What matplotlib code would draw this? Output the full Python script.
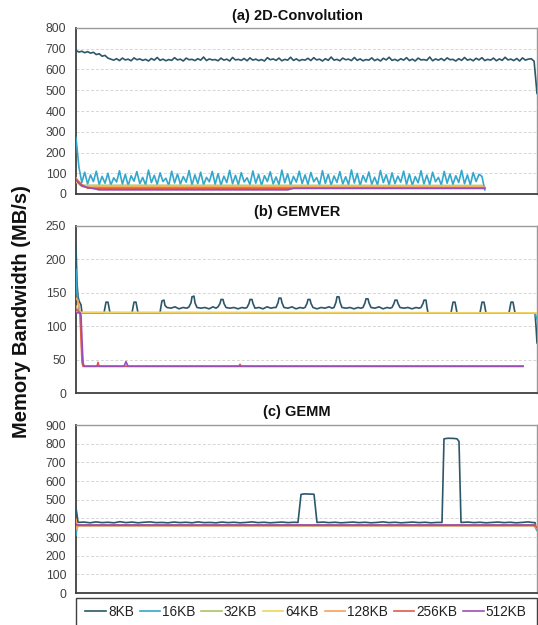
import numpy as np
import matplotlib
matplotlib.use("Agg")
import matplotlib.pyplot as plt
from matplotlib.patches import Rectangle

plt.rcParams['font.family'] = ['Liberation Sans', 'DejaVu Sans']

series_names = ["8KB", "16KB", "32KB", "64KB", "128KB", "256KB", "512KB"]
colors = ["#2C5669", "#35A7CC", "#A8C46A", "#F0D260", "#F7A25A", "#E05A45", "#9850B8"]

titles = ["(a) 2D-Convolution", "(b) GEMVER", "(c) GEMM"]
ylims = [(0, 800), (0, 250), (0, 900)]
ysteps = [100, 50, 100]
ylabel = "Memory Bandwidth (MB/s)"

# ---------------- (a) 2D-Convolution : sampled values ----------------
a_8kb = [692, 684, 688, 681, 686, 679, 683, 672, 676, 664, 668, 655, 650, 645, 652, 643, 655, 646, 650, 642,
         656, 647, 651, 644, 649, 641, 653, 645, 658, 644, 650, 642, 648, 644, 657, 646, 650, 641, 655, 647,
         649, 643, 652, 645, 660, 643, 651, 646, 648, 642, 655, 645, 650, 641, 658, 646, 649, 644, 653, 642,
         656, 645, 650, 643, 648, 641, 657, 647, 651, 644, 655, 642, 649, 645, 659, 644, 651, 642, 648, 645,
         654, 643, 657, 646, 650, 641, 652, 644, 660, 645, 649, 642, 655, 647, 650, 643, 658, 644, 651, 642,
         648, 645, 656, 643, 650, 641, 654, 646, 659, 644, 649, 642, 652, 645, 657, 643, 650, 641, 655, 646,
         648, 644, 660, 642, 651, 645, 653, 643, 656, 647, 649, 641, 652, 644, 658, 645, 650, 642, 654, 646,
         657, 643, 649, 645, 655, 642, 651, 644, 659, 646, 650, 643, 653, 641, 656, 645, 650, 652, 640, 485]
a_16kb = [272, 130, 55, 105, 48, 92, 60, 110, 45, 85, 52, 100, 42, 78, 58, 112, 47, 95, 40, 88,
          62, 108, 50, 80, 44, 115, 55, 90, 46, 102, 60, 76, 41, 110, 53, 96, 48, 84, 57, 113,
          43, 92, 50, 105, 45, 80, 59, 109, 47, 98, 42, 86, 55, 114, 49, 90, 44, 103, 58, 78,
          46, 111, 52, 94, 41, 88, 60, 107, 48, 82, 45, 115, 54, 97, 43, 85, 57, 110, 50, 92,
          46, 104, 59, 79, 44, 112, 51, 95, 42, 87, 56, 108, 48, 83, 45, 116, 53, 99, 41, 89,
          58, 106, 47, 81, 44, 113, 55, 93, 43, 102, 50, 86, 57, 110, 46, 96, 42, 84, 54, 112,
          48, 91, 45, 105, 59, 80, 43, 109, 52, 97, 46, 88, 55, 114, 49, 92, 44, 103, 60, 95,
          85, 20]
# flat series given as (sample, value) breakpoints
a_32kb = [(0, 62), (2, 42), (140, 41)]
a_64kb = [(0, 58), (2, 37), (140, 37)]
a_128kb = [(0, 78), (2, 40), (3, 33), (141, 33)]
a_256kb = [(0, 72), (2, 45), (4, 28), (141, 28)]
a_512kb = [(0, 66), (2, 38), (8, 20), (73, 20), (75, 27), (141, 27)]

# ---------------- (b) GEMVER : (time, value) breakpoints ----------------
b_8kb = [(0, 220), (1, 165), (2, 145), (3, 138), (5, 132), (6, 120),
         (28, 120), (29, 128), (30, 136), (32, 136), (33, 128), (34, 120),
         (56, 120), (57, 128), (58, 136), (60, 136), (61, 128), (62, 120),
         (84, 120), (85, 130), (86, 138), (88, 139), (89, 131), (91, 128), (95, 127), (99, 129), (103, 126),
         (107, 128), (111, 127),
         (113, 129), (115, 135), (116, 144), (118, 145), (119, 135), (121, 128), (125, 127), (129, 128),
         (133, 126), (137, 129), (140, 127),
         (142, 129), (144, 134), (145, 140), (147, 140), (148, 134), (150, 128), (154, 127), (158, 128),
         (162, 126), (166, 128), (169, 127),
         (171, 128), (173, 134), (174, 140), (176, 140), (177, 134), (179, 127), (183, 128), (187, 126),
         (191, 129), (195, 127), (198, 128),
         (200, 128), (202, 135), (203, 142), (205, 142), (206, 135), (208, 128), (212, 127), (216, 129),
         (220, 126), (224, 128), (227, 127),
         (229, 128), (231, 134), (232, 140), (234, 140), (235, 134), (237, 128), (241, 126), (245, 128),
         (249, 127), (253, 129), (256, 127),
         (258, 128), (260, 136), (261, 144), (263, 144), (264, 136), (266, 128), (270, 127), (274, 128),
         (278, 126), (282, 128), (285, 127),
         (287, 128), (289, 135), (290, 141), (292, 141), (293, 135), (295, 128), (299, 127), (303, 129),
         (307, 126), (311, 128), (314, 127),
         (316, 128), (318, 134), (319, 139), (321, 139), (322, 134), (324, 128), (328, 127), (332, 128),
         (336, 126), (340, 128), (343, 127),
         (345, 128), (347, 134), (348, 139), (350, 139), (351, 128), (352, 120),
         (375, 120), (376, 128), (377, 136), (379, 136), (380, 128), (381, 120),
         (404, 120), (405, 128), (406, 136), (408, 136), (409, 128), (410, 120),
         (433, 120), (434, 128), (435, 136), (437, 136), (438, 128), (439, 120),
         (459, 120), (460, 100), (461, 75)]
b_16kb = [(0, 185), (1, 150), (3, 125), (4, 120), (459, 120), (461, 110)]
b_32kb = [(0, 130), (2, 122), (3, 120), (461, 120)]
b_64kb = [(0, 121), (461, 120)]
b_128kb = [(0, 142), (2, 138), (4, 120), (6, 60), (7, 46), (8, 40), (447, 40)]
b_256kb = [(0, 126), (4, 120), (6, 46), (7, 40), (21, 40), (22, 46), (23, 40), (163, 40), (164, 43),
           (165, 40), (447, 40)]
b_512kb = [(0, 120), (4, 120), (5, 117), (7, 45), (8, 40), (48, 40), (50, 47), (52, 40), (447, 40)]

# ---------------- (c) GEMM : (time, value) breakpoints ----------------
c_8kb = [(0, 455), (1, 420), (2, 378), (8, 380), (14, 376), (20, 381), (26, 377), (32, 379), (38, 376),
         (44, 382), (50, 377), (56, 380), (62, 376), (68, 379), (74, 381), (80, 377), (86, 378), (92, 376),
         (98, 380), (104, 377), (110, 379), (116, 376), (122, 381), (128, 377), (134, 378), (140, 376),
         (146, 380), (152, 377), (158, 379), (164, 376), (170, 378), (176, 381), (182, 377), (188, 379),
         (194, 376), (200, 378), (206, 380), (212, 377), (218, 379), (222, 378), (225, 528), (228, 531),
         (234, 530), (238, 529), (241, 378), (247, 380), (253, 377), (259, 379), (265, 376), (271, 378),
         (277, 380), (283, 377), (289, 379), (295, 376), (301, 378), (307, 381), (313, 377), (319, 379),
         (325, 376), (331, 378), (337, 380), (343, 377), (349, 379), (355, 376), (361, 378), (366, 378),
         (368, 826), (372, 829), (378, 828), (381, 826), (383, 812), (385, 378), (392, 380), (398, 377),
         (404, 379), (410, 376), (416, 378), (422, 380), (428, 377), (434, 379), (440, 376), (446, 378),
         (452, 381), (456, 378), (459, 377), (461, 340)]
c_16kb = [(0, 310), (1, 350), (2, 362), (458, 362), (461, 335)]
c_32kb = [(0, 345), (2, 362), (461, 362)]
c_64kb = [(0, 372), (2, 362), (461, 362)]
c_128kb = [(0, 395), (1, 340), (2, 362), (457, 362), (461, 345)]
c_256kb = [(0, 370), (2, 362), (459, 362), (461, 350)]
c_512kb = [(0, 362), (459, 362)]

panel_a = [a_8kb, a_16kb, a_32kb, a_64kb, a_128kb, a_256kb, a_512kb]
panel_b = [b_8kb, b_16kb, b_32kb, b_64kb, b_128kb, b_256kb, b_512kb]
panel_c = [c_8kb, c_16kb, c_32kb, c_64kb, c_128kb, c_256kb, c_512kb]
panels = [panel_a, panel_b, panel_c]

W, H = 538, 625
fig = plt.figure(figsize=(W / 100, H / 100), dpi=100)

# axes boxes in pixels: (left, top, right, bottom)
boxes = [(76, 28, 537, 194), (76, 226, 537, 393), (76, 425, 537, 593)]
title_y = [16, 212, 412]

handles = []
for i, (panel, box) in enumerate(zip(panels, boxes)):
    l, t, r, b = box
    ax = fig.add_axes([l / W, 1 - b / H, (r - l) / W, (b - t) / H])
    xmax = None
    for j, s in enumerate(panel):
        if isinstance(s[0], tuple):
            xs = [p[0] for p in s]
            ys = [p[1] for p in s]
        else:
            xs = np.arange(len(s))
            ys = s
        ln, = ax.plot(xs, ys, color=colors[j], lw=1.2, label=series_names[j], zorder=3 + j * 0.01,
                      solid_joinstyle='round')
        if i == 0:
            handles.append(ln)
        if j == 0:
            xmax = xs[-1]
    ax.set_xlim(0, xmax)
    ax.set_ylim(*ylims[i])
    ax.set_yticks(np.arange(ylims[i][0], ylims[i][1] + 1, ysteps[i]))
    ax.set_xticks([])
    ax.tick_params(axis='y', length=0, labelsize=8.7, labelcolor='#404040', pad=7)
    ax.grid(axis='y', color='#d6d6d6', lw=0.7, ls=(0, (3, 2)))
    ax.set_axisbelow(True)
    for side in ['left', 'bottom']:
        ax.spines[side].set_color('#404040')
        ax.spines[side].set_linewidth(1.3)
    for side in ['top', 'right']:
        ax.spines[side].set_color('#9a9a9a')
        ax.spines[side].set_linewidth(1.0)
    fig.text(297 / W, 1 - title_y[i] / H, titles[i], ha='center', va='center',
             fontsize=10.5, fontweight='bold', color='#111111')

fig.text(22 / W, 1 - 312 / H, ylabel, rotation=90, ha='center', va='center',
         fontsize=14.5, fontweight='bold', color='#111111')

# legend box (extends beyond the bottom edge as in the reference)
fig.patches.append(Rectangle((76 / W, -0.05), 461 / W, 0.05 + 1 - 598 / H, transform=fig.transFigure,
                             fill=False, edgecolor='#404040', lw=1.0))
leg = fig.legend(handles=handles, labels=series_names, loc='center', ncol=7, mode='expand',
                 bbox_to_anchor=(80 / W, 1 - 626 / H, 452 / W, 28 / H), borderaxespad=0,
                 fontsize=9.8, handlelength=1.5, handletextpad=0.15, columnspacing=0.6,
                 frameon=False)
for txt in leg.get_texts():
    txt.set_color('#222222')

fig.savefig("out.png", dpi=100)
